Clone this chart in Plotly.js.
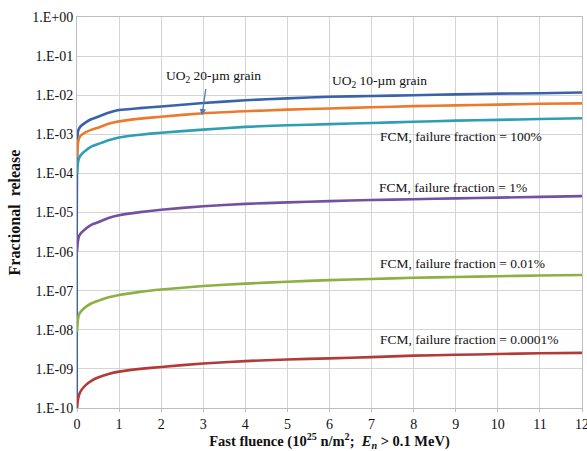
<!DOCTYPE html>
<html><head><meta charset="utf-8">
<script src="https://cdn.plot.ly/plotly-3.0.1.min.js"></script>
<style>html,body{margin:0;padding:0;background:#fff}#chart{width:587px;height:451px}</style>
</head><body><div id="chart"></div>
<script>
// Fast fluence (10^25 n/m^2)
const fluence = [0, 0.02, 0.05, 0.1, 0.2, 0.35, 0.5, 0.75, 1, 1.5, 2, 3, 4, 5, 6, 7, 8, 9, 10, 11, 12];
// log10 of fractional release
const uo2_10um = [-12, -2.95, -2.85, -2.78, -2.70, -2.61, -2.55, -2.45, -2.38, -2.33, -2.29, -2.20, -2.13, -2.08, -2.04, -2.02, -2.00, -1.98, -1.96, -1.95, -1.93];
const uo2_20um = [-3.6, -3.25, -3.10, -3.02, -2.95, -2.88, -2.83, -2.73, -2.67, -2.60, -2.55, -2.46, -2.41, -2.37, -2.34, -2.31, -2.28, -2.26, -2.24, -2.22, -2.21];
const fcm100   = [-4.0, -3.75, -3.60, -3.52, -3.42, -3.31, -3.25, -3.15, -3.08, -3.01, -2.96, -2.88, -2.81, -2.77, -2.74, -2.71, -2.68, -2.65, -2.63, -2.61, -2.59];
const fcm1     = [-6.0, -5.75, -5.60, -5.52, -5.42, -5.31, -5.25, -5.14, -5.07, -4.99, -4.93, -4.84, -4.78, -4.74, -4.71, -4.68, -4.66, -4.64, -4.62, -4.60, -4.58];
const fcm001   = [-8.05, -7.75, -7.60, -7.52, -7.42, -7.32, -7.26, -7.17, -7.11, -7.03, -6.97, -6.88, -6.82, -6.77, -6.73, -6.70, -6.67, -6.65, -6.63, -6.61, -6.60];
const fcm00001 = [-10.0, -9.80, -9.66, -9.55, -9.42, -9.30, -9.22, -9.13, -9.07, -9.00, -8.95, -8.86, -8.80, -8.76, -8.73, -8.70, -8.66, -8.64, -8.62, -8.60, -8.59];

const yTickVals = [1e-10,1e-9,1e-8,1e-7,1e-6,1e-5,1e-4,1e-3,1e-2,1e-1,1];
const yTickText = ["1.E-10","1.E-09","1.E-08","1.E-07","1.E-06","1.E-05","1.E-04","1.E-03","1.E-02","1.E-01","1.E+00"];
const xTickVals = [0,1,2,3,4,5,6,7,8,9,10,11,12];

const series = [
  {name:"UO2 10-µm grain", y:uo2_10um, color:"#3A62AA"},
  {name:"UO2 20-µm grain", y:uo2_20um, color:"#EC7A2E"},
  {name:"FCM 100%", y:fcm100, color:"#2E9EB5"},
  {name:"FCM 1%", y:fcm1, color:"#7451A0"},
  {name:"FCM 0.01%", y:fcm001, color:"#8CB043"},
  {name:"FCM 0.0001%", y:fcm00001, color:"#B23B3A"}
];

const traces = series.map(s => ({
  x: fluence, y: s.y.map(v => Math.pow(10, v)), type:"scatter", mode:"lines",
  name: s.name, line:{color:s.color, width:2.6, shape:"spline", smoothing:0.5}
}));

const F = "Liberation Serif";
const annFont = {family:F, size:13.5, color:"#111"};
const layout = {
  width:587, height:451,
  margin:{l:77, r:5, t:17, b:43},
  showlegend:false,
  paper_bgcolor:"#fff", plot_bgcolor:"#fff",
  font:{family:F},
  xaxis:{range:[0,12], tickvals:xTickVals, showgrid:true, gridcolor:"#d4d4d4", gridwidth:1,
    zeroline:false, showline:true, linecolor:"#bdbdbd", mirror:true,
    ticks:"outside", ticklen:3, tickcolor:"#bdbdbd", ticklabeloverflow:"allow",
    tickfont:{family:F, size:14, color:"#111"},
    title:{text:"<b>Fast fluence (10<sup>25</sup> n/m<sup>2</sup>;  <i>E</i><sub><i>n</i></sub> > 0.1 MeV)</b>", font:{family:F, size:14.5, color:"#111"}, standoff:3}},
  yaxis:{type:"log", range:[-10,0], tickvals:yTickVals, ticktext:yTickText,
    showgrid:true, gridcolor:"#d4d4d4", gridwidth:1, zeroline:false,
    showline:true, linecolor:"#bdbdbd", mirror:true, ticks:"", ticklen:0,
    tickfont:{family:F, size:14, color:"#111"},
    title:{text:"<b>Fractional  release</b>", font:{family:F, size:16, color:"#111"}, standoff:7}},
  annotations:[
    {x:2.97, y:-2.52, xref:"x", yref:"y", text:"", showarrow:true, arrowhead:2, arrowsize:1,
      arrowwidth:1.3, arrowcolor:"#4A7EBB", ax:4, ay:-28},
    {x:3.25, y:-1.53, xref:"x", yref:"y", text:"UO<sub>2</sub> 20-µm grain", showarrow:false, font:annFont},
    {x:7.18, y:-1.65, xref:"x", yref:"y", text:"UO<sub>2</sub> 10-µm grain", showarrow:false, font:annFont},
    {x:9.13, y:-3.06, xref:"x", yref:"y", text:"FCM, failure fraction = 100%", showarrow:false, font:annFont},
    {x:8.93, y:-4.37, xref:"x", yref:"y", text:"FCM, failure fraction = 1%", showarrow:false, font:annFont},
    {x:9.15, y:-6.30, xref:"x", yref:"y", text:"FCM, failure fraction = 0.01%", showarrow:false, font:annFont},
    {x:9.33, y:-8.24, xref:"x", yref:"y", text:"FCM, failure fraction = 0.0001%", showarrow:false, font:annFont}
  ]
};

Plotly.newPlot("chart", traces, layout, {displayModeBar:false, staticPlot:true});
</script></body></html>
